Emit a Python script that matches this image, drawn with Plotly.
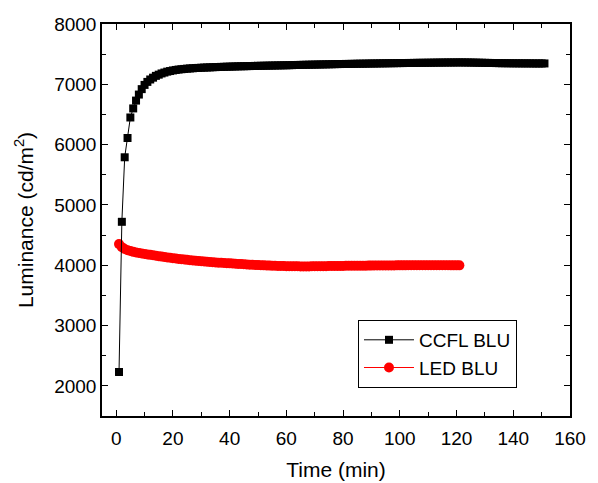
import plotly.graph_objects as go

ccfl_t = list(range(1, 152))
ccfl_v = [2230, 4720, 5790, 6110, 6450, 6600, 6730, 6830, 6920, 6990,
          7040, 7080, 7110, 7140, 7160, 7180, 7195, 7210, 7220, 7230,
          7238, 7245, 7250, 7255, 7260, 7263, 7266, 7270, 7272, 7275,
          7277, 7279, 7281, 7283, 7285, 7287, 7289, 7290, 7292, 7293,
          7295, 7296, 7298, 7299, 7300, 7301, 7302, 7303, 7305, 7306,
          7307, 7308, 7309, 7310, 7311, 7312, 7313, 7314, 7315, 7316,
          7317, 7318, 7320, 7321, 7322, 7323, 7324, 7325, 7326, 7327,
          7328, 7329, 7330, 7331, 7332, 7333, 7334, 7335, 7336, 7337,
          7338, 7338, 7339, 7340, 7341, 7342, 7342, 7343, 7344, 7345,
          7345, 7346, 7347, 7348, 7348, 7349, 7350, 7350, 7351, 7352,
          7352, 7353, 7354, 7354, 7355, 7356, 7356, 7357, 7357, 7358,
          7358, 7359, 7360, 7360, 7361, 7361, 7362, 7362, 7362, 7363,
          7363, 7363, 7362, 7362, 7361, 7360, 7359, 7358, 7357, 7356,
          7355, 7354, 7353, 7352, 7351, 7350, 7350, 7349, 7349, 7348,
          7348, 7348, 7347, 7347, 7347, 7347, 7346, 7346, 7346, 7346, 7346]

led_t = list(range(1, 122))
led_v = [4350, 4300, 4270, 4250, 4235, 4222, 4212, 4203, 4195, 4188,
         4180, 4172, 4165, 4158, 4150, 4143, 4137, 4130, 4123, 4117,
         4111, 4105, 4099, 4094, 4089, 4084, 4079, 4074, 4070, 4066,
         4062, 4058, 4054, 4050, 4046, 4043, 4040, 4037, 4034, 4031,
         4028, 4025, 4022, 4019, 4016, 4013, 4010, 4007, 4004, 4002,
         4000, 3998, 3996, 3994, 3992, 3990, 3988, 3987, 3986, 3985,
         3984, 3983, 3982, 3982, 3981, 3981, 3981, 3981, 3982, 3982,
         3983, 3983, 3984, 3985, 3986, 3986, 3987, 3988, 3988, 3989,
         3990, 3990, 3991, 3991, 3992, 3992, 3993, 3993, 3994, 3994,
         3995, 3995, 3996, 3996, 3996, 3997, 3997, 3997, 3998, 3998,
         3998, 3998, 3999, 3999, 3999, 3999, 3999, 4000, 4000, 4000,
         4000, 4000, 4000, 3999, 3999, 3999, 3999, 3998, 3998, 3998, 3998]

x_ticks = list(range(0, 161, 20))
y_ticks = list(range(2000, 8001, 1000))

FONT = "Arial, Liberation Sans, sans-serif"

fig = go.Figure()
fig.add_trace(go.Scatter(x=led_t, y=led_v, name="LED BLU", mode="lines+markers",
                         legendrank=2,
                         line=dict(color="red", width=1),
                         marker=dict(symbol="circle", size=10, color="red")))
fig.add_trace(go.Scatter(x=ccfl_t, y=ccfl_v, name="CCFL BLU", mode="lines+markers",
                         legendrank=1,
                         line=dict(color="black", width=1),
                         marker=dict(symbol="square", size=8, color="black")))

axis_common = dict(showline=True, linecolor="black", linewidth=1.5, mirror="ticks",
                   ticks="inside", ticklen=6, tickwidth=1.2, tickcolor="black",
                   showgrid=False, zeroline=False, automargin=False,
                   tickfont=dict(family=FONT, size=19, color="black"))

fig.update_xaxes(range=[-5, 160], tickmode="array", tickvals=x_ticks,
                 minor=dict(ticks="inside", ticklen=4, tickwidth=1.2, tickcolor="black", dtick=10, tick0=0),
                 title=dict(text="Time (min)", font=dict(family=FONT, size=21, color="black")),
                 ticklabelstandoff=4,
                 **axis_common)
fig.update_yaxes(range=[1500, 8000], tickmode="array", tickvals=y_ticks,
                 minor=dict(ticks="inside", ticklen=4, tickwidth=1.2, tickcolor="black", dtick=500, tick0=0),
                 title=dict(text="Luminance (cd/m<sup>2</sup>)", font=dict(family=FONT, size=21, color="black")),
                 **axis_common)

fig.update_layout(width=598, height=483,
                  margin=dict(l=102, r=28, t=24, b=67),
                  paper_bgcolor="white", plot_bgcolor="white",
                  legend=dict(x=0.547, y=0.245, xanchor="left", yanchor="top",
                              traceorder="normal", bordercolor="black", borderwidth=1,
                              bgcolor="white", font=dict(family=FONT, size=19, color="black"),
                              itemwidth=50),
                  showlegend=True)

fig.write_html("out.html")
